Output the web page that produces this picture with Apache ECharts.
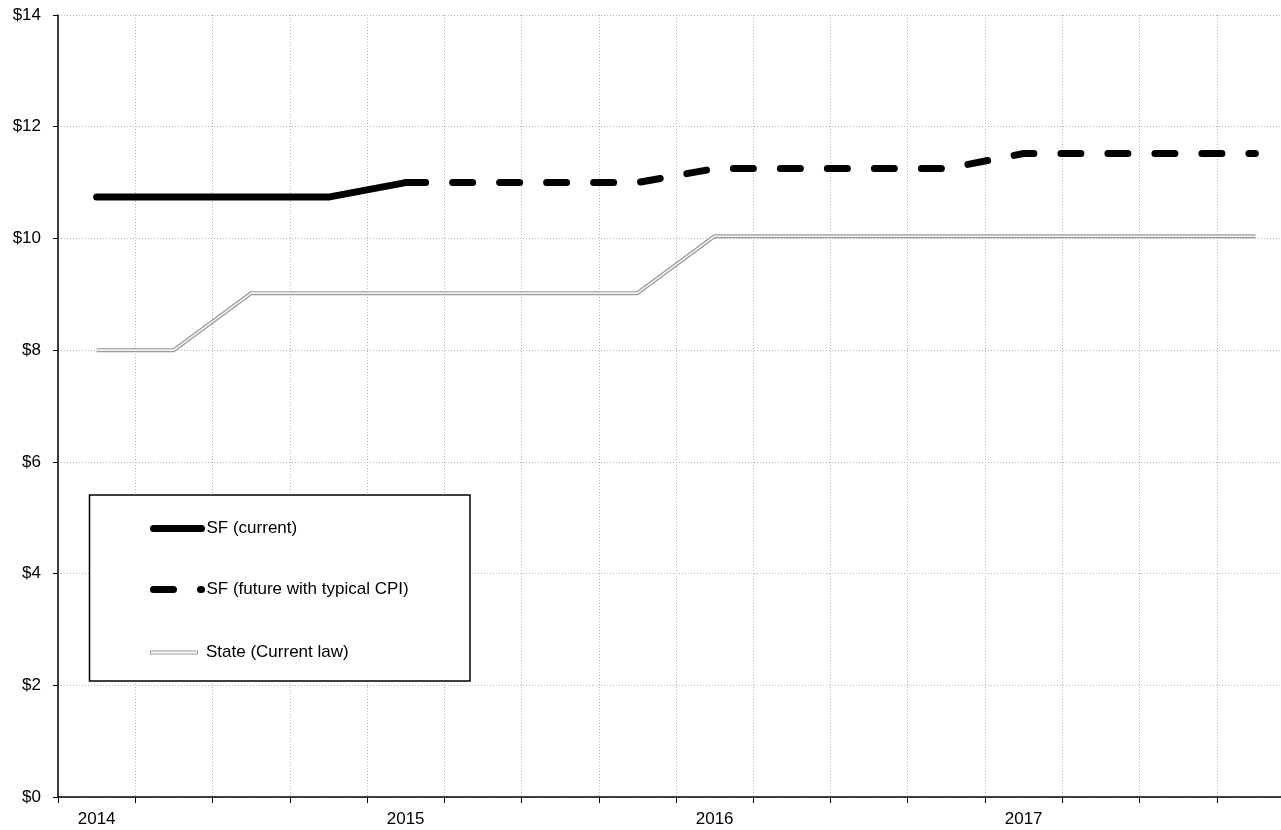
<!DOCTYPE html>
<html>
<head>
<meta charset="utf-8">
<script src="https://cdn.jsdelivr.net/npm/echarts@6/dist/echarts.min.js"></script>
<style>
  html, body { margin: 0; padding: 0; background: #fff; overflow: hidden; }
  #chart { width: 1300px; height: 830px; }
</style>
</head>
<body>
<div id="chart"></div>
<script>
// Quarterly categories (2014 Q1 .. 2017 Q4)
const categories = ['2014 Q1','2014 Q2','2014 Q3','2014 Q4',
                    '2015 Q1','2015 Q2','2015 Q3','2015 Q4',
                    '2016 Q1','2016 Q2','2016 Q3','2016 Q4',
                    '2017 Q1','2017 Q2','2017 Q3','2017 Q4'];
const yearLabels = ['2014', '2015', '2016', '2017'];

const seriesNames = ['SF (current)', 'SF (future with typical CPI)', 'State (Current law)'];

const sfCurrent = [10.74, 10.74, 10.74, 10.74, 11.00, null, null, null,
                   null, null, null, null, null, null, null, null];
const sfFuture  = [null, null, null, null, 11.00, 11.00, 11.00, 11.00,
                   11.25, 11.25, 11.25, 11.25, 11.52, 11.52, 11.52, 11.52];
const stateLaw  = [8.00, 8.00, 9.02, 9.02, 9.02, 9.02, 9.02, 9.02,
                   10.04, 10.04, 10.04, 10.04, 10.04, 10.04, 10.04, 10.04];

const yTicks = { min: 0, max: 14, interval: 2 };

const FONT = 'Liberation Sans';
const chart = echarts.init(document.getElementById('chart'));

function legendFor(top, item) {
  return {
    left: 145, top: top, orient: 'horizontal',
    itemWidth: 48, itemHeight: 14, itemGap: 0,
    selectedMode: false,
    textStyle: { fontFamily: FONT, fontSize: 17, color: '#000', lineHeight: 14 },
    z: 20,
    data: [item]
  };
}

const hiddenSymbol = { opacity: 0, borderWidth: 0 };

const option = {
  animation: false,
  backgroundColor: '#fff',
  grid: { left: 58, top: 15, width: 1236, height: 782 },
  xAxis: {
    type: 'category',
    data: categories,
    boundaryGap: true,
    axisLine: { show: true, lineStyle: { color: '#000', width: 1.5 } },
    axisTick: { show: true, interval: 0, length: 6, lineStyle: { color: '#000', width: 1 } },
    axisLabel: {
      interval: 3,
      margin: 14,
      fontFamily: FONT, fontSize: 17, color: '#000',
      formatter: function (v, i) { return yearLabels[Math.floor(i / 4)]; }
    },
    splitLine: { show: true, interval: 0, lineStyle: { color: '#b4b4b4', type: [1, 2], width: 1 } }
  },
  yAxis: {
    type: 'value',
    min: yTicks.min, max: yTicks.max, interval: yTicks.interval,
    axisLine: { show: true, lineStyle: { color: '#000', width: 1.5 } },
    axisTick: { show: true, length: 5, lineStyle: { color: '#000', width: 1 } },
    axisLabel: {
      margin: 17,
      fontFamily: FONT, fontSize: 17, color: '#000',
      formatter: '${value}'
    },
    splitLine: { show: true, lineStyle: { color: '#b4b4b4', type: [1, 2], width: 1 } }
  },
  legend: [
    legendFor(515, { name: seriesNames[0], itemStyle: hiddenSymbol,
                     lineStyle: { width: 7, color: '#000', cap: 'round' } }),
    legendFor(576, { name: seriesNames[1], itemStyle: hiddenSymbol,
                     lineStyle: { width: 7, color: '#000', cap: 'round', type: [20, 27] } }),
    legendFor(639, { name: seriesNames[2], icon: 'path://M0,0H48V4H0Z M1,1V3H47V1Z',
                     itemStyle: { color: '#9b9b9b', borderWidth: 0 },
                     textStyle: { padding: [0, 0, 0, 3] } })
  ],
  graphic: [{
    type: 'rect',
    shape: { x: 89.5, y: 495, width: 380.5, height: 186 },
    style: { fill: '#fff', stroke: '#000', lineWidth: 1.5 },
    z: 10
  }],
  series: [
    {
      name: seriesNames[2], type: 'line', data: stateLaw,
      symbol: 'none', showSymbol: false,
      lineStyle: { color: '#9b9b9b', width: 4, join: 'round' },
      itemStyle: { color: '#9b9b9b' }, z: 2
    },
    {
      name: 'stateInner', type: 'line', data: stateLaw,
      symbol: 'none', showSymbol: false,
      lineStyle: { color: '#f2f2f2', width: 1.6, join: 'round' },
      itemStyle: { color: '#f2f2f2' }, z: 3
    },
    {
      name: seriesNames[0], type: 'line', data: sfCurrent,
      symbol: 'none', showSymbol: false,
      lineStyle: { color: '#000', width: 7, cap: 'round', join: 'round' },
      itemStyle: { color: '#000' }, z: 4
    },
    {
      name: seriesNames[1], type: 'line', data: sfFuture,
      symbol: 'none', showSymbol: false,
      lineStyle: { color: '#000', width: 7, cap: 'round', join: 'round', type: [20, 27] },
      itemStyle: { color: '#000' }, z: 4
    }
  ]
};
chart.setOption(option);
</script>
</body>
</html>
